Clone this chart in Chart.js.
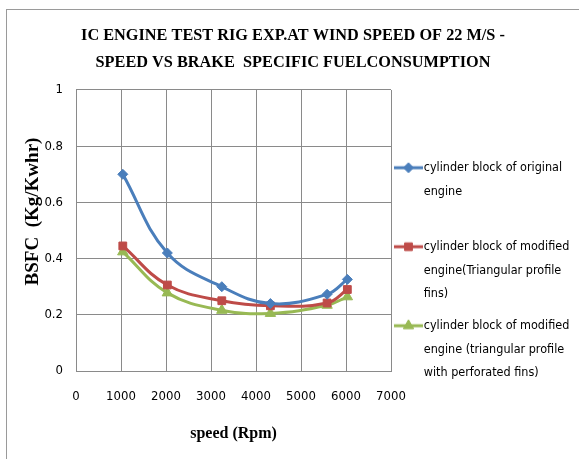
<!DOCTYPE html>
<html>
<head>
<meta charset="utf-8">
<script src="https://cdn.jsdelivr.net/npm/chart.js@4/dist/chart.umd.min.js"></script>
<style>
  html, body { margin: 0; padding: 0; background: #fff; }
  .frame {
    position: absolute; left: 6px; top: 9px; width: 573px; height: 450px;
    border-left: 1px solid #9a9a9a; border-top: 1px solid #9a9a9a;
  }
  canvas { display: block; }
</style>
</head>
<body>
<div class="frame"><canvas id="myChart" width="572" height="449"></canvas></div>
<script>
// values
const speeds = [1040, 2030, 3240, 4320, 5580, 6030];
const bsfcOriginal = [0.70, 0.42, 0.30, 0.24, 0.273, 0.326];
const bsfcTriangular = [0.445, 0.306, 0.25, 0.232, 0.242, 0.29];
const bsfcPerforated = [0.424, 0.278, 0.216, 0.205, 0.234, 0.264];

const xTickLabels = ['0', '1000', '2000', '3000', '4000', '5000', '6000', '7000'];
const yTickLabels = ['0', '0.2', '0.4', '0.6', '0.8', '1'];

const legendLines = [
  ['cylinder block of original', 'engine', ''],
  ['cylinder block of modified', 'engine(Triangular profile', 'fins)'],
  ['cylinder block of modified', 'engine (triangular profile', 'with perforated fins)']
];

const colors = ['#4A7EBB', '#BE4B48', '#98B954'];
const styles = ['rectRot', 'rect', 'triangle'];
const radii = [5, 5.5, 6];

const narrow = "'DejaVu Sans Condensed', 'Liberation Sans Narrow', sans-serif";
const serif = "'Liberation Serif', 'DejaVu Serif', serif";

function toPoints(ys) {
  return ys.map((y, i) => ({ x: speeds[i], y: y }));
}

// small line + marker icon for the legend
function legendIcon(color, style, r) {
  const c = document.createElement('canvas');
  c.width = 29;
  c.height = 14;
  const g = c.getContext('2d');
  g.strokeStyle = color;
  g.lineWidth = 3;
  g.beginPath();
  g.moveTo(0, 7);
  g.lineTo(29, 7);
  g.stroke();
  g.fillStyle = color;
  g.lineWidth = 1;
  Chart.helpers.drawPoint(g, { pointStyle: style, radius: r, borderWidth: 1, rotation: 0 }, 14.5, 7);
  return c;
}

document.addEventListener('DOMContentLoaded', () => {
  const ctx = document.getElementById('myChart').getContext('2d');
  const series = [bsfcOriginal, bsfcTriangular, bsfcPerforated];
  const icons = series.map((s, i) => legendIcon(colors[i], styles[i], radii[i]));

  const data = {
    datasets: series.map((s, i) => ({
      label: legendLines[i].join(' ').trim(),
      data: toPoints(s),
      borderColor: colors[i],
      backgroundColor: colors[i],
      borderWidth: 3,
      pointStyle: styles[i],
      pointRadius: radii[i],
      pointBorderWidth: 1,
      tension: 0.4
    }))
  };

  const gridColor = '#8a8a8a';

  const config = {
    type: 'line',
    data: data,
    options: {
      responsive: false,
      animation: false,
      layout: {
        padding: { left: 0, right: 0, top: 0, bottom: 0 }
      },
      scales: {
        x: {
          type: 'linear',
          min: 0,
          max: 7000,
          afterFit: scale => { scale.height = 88; },
          ticks: {
            stepSize: 1000,
            padding: 18,
            color: '#000',
            font: { family: narrow, size: 13 },
            callback: (v, i) => xTickLabels[i]
          },
          grid: { color: gridColor, drawTicks: false },
          border: { color: gridColor },
          title: {
            display: true,
            text: 'speed (Rpm)',
            color: '#000',
            font: { family: serif, size: 16, weight: 'bold' },
            padding: { top: 0, bottom: 16 }
          }
        },
        y: {
          min: 0,
          max: 1,
          afterFit: scale => { scale.width = 69; },
          ticks: {
            stepSize: 0.2,
            padding: 13,
            color: '#000',
            font: { family: narrow, size: 13 },
            callback: (v, i) => yTickLabels[i]
          },
          grid: { color: gridColor, drawTicks: false },
          border: { color: gridColor },
          title: {
            display: true,
            text: '        BSFC  (Kg/Kwhr)',
            color: '#000',
            font: { family: serif, size: 19, weight: 'bold' },
            padding: { top: 14.6, bottom: 0 }
          }
        }
      },
      plugins: {
        title: {
          display: true,
          text: ['IC ENGINE TEST RIG EXP.AT WIND SPEED OF 22 M/S -', 'SPEED VS BRAKE  SPECIFIC FUELCONSUMPTION'],
          color: '#000',
          font: { family: serif, size: 16.3, weight: 'bold', lineHeight: 1.656 },
          padding: { top: 12, bottom: 14 }
        },
        legend: {
          position: 'right',
          align: 'start',
          maxWidth: 188,
          title: {
            display: true,
            text: ' ',
            font: { size: 10, lineHeight: 1 },
            padding: { top: 133, bottom: 0 }
          },
          labels: {
            usePointStyle: true,
            pointStyleWidth: 18,
            padding: 8.5,
            color: '#000',
            font: { family: narrow, size: 12.5, lineHeight: 1.88 },
            generateLabels: chart => chart.data.datasets.map((ds, i) => ({
              text: legendLines[i],
              pointStyle: icons[i],
              fillStyle: colors[i],
              strokeStyle: colors[i],
              fontColor: '#000',
              lineWidth: 0,
              hidden: false,
              datasetIndex: i
            }))
          }
        },
        tooltip: { enabled: false }
      }
    }
  };

  new Chart(ctx, config);
});
</script>
</body>
</html>
